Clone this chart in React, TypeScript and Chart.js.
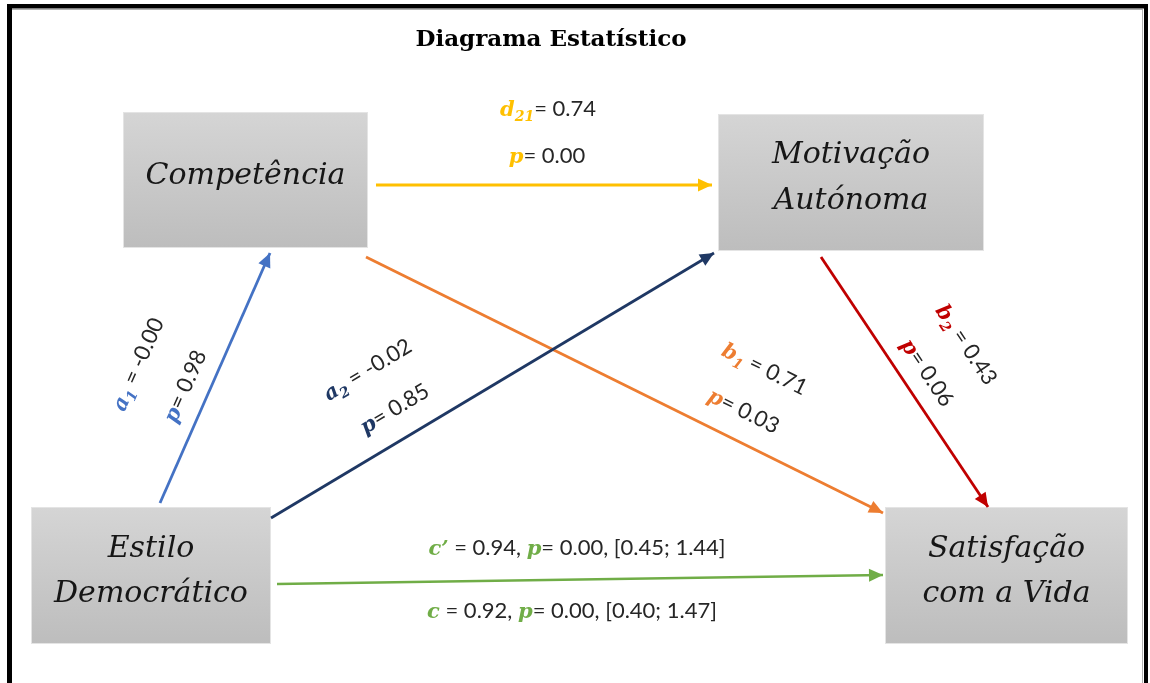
import React, { useEffect, useRef } from 'react';
import { Chart, registerables } from 'chart.js';

Chart.register(...registerables);

// ---------------- DATA ----------------
const chartTitle = 'Diagrama Estatístico';
const nodeLabels = ['Competência', 'Motivação\nAutónoma', 'Estilo\nDemocrático', 'Satisfação\ncom a Vida'];
const pathSymbols = ['a', 'a', 'd', 'b', 'b', 'c’', 'c'];
const pathSubscripts = ['1', '2', '21', '1', '2', '', ''];
const pathFrom = [2, 2, 0, 0, 1, 2];
const pathTo = [0, 1, 1, 3, 3, 3];
const coefficients = [-0.004, -0.02, 0.74, 0.71, 0.43, 0.94, 0.92];
const pValues = [0.98, 0.85, 0.0, 0.03, 0.06, 0.0, 0.0];
const ciLower = [0.45, 0.4];
const ciUpper = [1.44, 1.47];

// ---------------- STYLE / LAYOUT ----------------
const pathColors = ['#4472C4', '#1F3864', '#FFC000', '#ED7D31', '#C00000', '#70AD47', '#70AD47'];
const textDark = '#262626';
const boxRects = [
  [123, 112, 368, 248],
  [718, 114, 984, 251],
  [31, 507, 271, 644],
  [885, 507, 1128, 644],
];
const boxBaselines = [[184], [163, 209], [557, 602], [557, 602]];
const arrowEnds = [
  [160, 503, 270, 253],
  [271, 518, 714, 253],
  [376, 185, 712, 185],
  [366, 257, 883, 513],
  [821, 257, 988, 507],
  [277, 584, 883, 575],
];
// label layout: [coefficient line cx, cy, p line cx, cy, angle]
const labelLayout = [
  [137, 364, 184, 386, -66],
  [367, 369, 394, 408, -31],
  [548, 108, 547, 155, 0],
  [765, 368, 744, 410, 26.4],
  [967, 344, 928, 372, 56.3],
];
const effectLabelPos = [
  [577, 547],
  [572, 610],
];
const symFont = 'bold italic 21px "DejaVu Serif"';
const subFont = 'bold italic 14px "DejaVu Serif"';
const numFont = '22px Lato';
const boxFont = 'italic 30px "DejaVu Serif"';
const titleFont = 'bold 23px "DejaVu Serif"';

type Seg = { t: string; f: string; c: string; dy?: number };

function drawRich(ctx: CanvasRenderingContext2D, segs: Seg[], cx: number, cy: number, angle: number) {
  let w = 0;
  const widths: number[] = [];
  for (const s of segs) {
    ctx.font = s.f;
    const sw = ctx.measureText(s.t).width;
    widths.push(sw);
    w += sw;
  }
  ctx.save();
  ctx.translate(cx, cy);
  ctx.rotate((angle * Math.PI) / 180);
  ctx.textAlign = 'left';
  ctx.textBaseline = 'alphabetic';
  let x = -w / 2;
  segs.forEach((s, i) => {
    ctx.font = s.f;
    ctx.fillStyle = s.c;
    ctx.fillText(s.t, x, 8 + (s.dy || 0));
    x += widths[i];
  });
  ctx.restore();
}

function fmt(v: number) {
  return v.toFixed(2);
}

const diagramPlugin = {
  id: 'diagram',
  beforeDatasetsDraw(chart: any) {
    const ctx: CanvasRenderingContext2D = chart.ctx;
    const xs = chart.scales.x;
    const ys = chart.scales.y;
    const px = (v: number) => xs.getPixelForValue(v);
    const py = (v: number) => ys.getPixelForValue(v);
    ctx.save();
    // frame
    ctx.fillStyle = '#000';
    ctx.fillRect(px(7), py(4), px(1148) - px(7), 4.5);
    ctx.fillRect(px(7), py(4), 5, py(683) - py(4));
    ctx.fillRect(px(1144), py(4), 4, py(683) - py(4));
    ctx.fillStyle = '#b0b0b0';
    ctx.fillRect(px(12), py(9), px(1143) - px(12), 1);
    ctx.fillRect(px(1142), py(9), 1, py(683) - py(9));
    // boxes
    boxRects.forEach((r, i) => {
      const x0 = px(r[0]), y0 = py(r[1]), x1 = px(r[2]), y1 = py(r[3]);
      const g = ctx.createLinearGradient(0, y0, 0, y1);
      g.addColorStop(0, '#d5d5d5');
      g.addColorStop(1, '#bdbdbd');
      ctx.fillStyle = g;
      ctx.fillRect(x0, y0, x1 - x0, y1 - y0);
      ctx.strokeStyle = '#e4e4e4';
      ctx.lineWidth = 1;
      ctx.strokeRect(x0 + 0.5, y0 + 0.5, x1 - x0 - 1, y1 - y0 - 1);
      const lines = nodeLabels[i].split('\n');
      ctx.font = boxFont;
      ctx.fillStyle = '#161616';
      ctx.textAlign = 'center';
      ctx.textBaseline = 'alphabetic';
      lines.forEach((ln, j) => {
        ctx.fillText(ln, (x0 + x1) / 2, py(boxBaselines[i][j]));
      });
    });
    ctx.restore();
  },
  afterDatasetsDraw(chart: any) {
    const ctx: CanvasRenderingContext2D = chart.ctx;
    const xs = chart.scales.x;
    const ys = chart.scales.y;
    const px = (v: number) => xs.getPixelForValue(v);
    const py = (v: number) => ys.getPixelForValue(v);
    ctx.save();
    // arrowheads
    arrowEnds.forEach((a, i) => {
      const x0 = px(a[0]), y0 = py(a[1]), x1 = px(a[2]), y1 = py(a[3]);
      const ang = Math.atan2(y1 - y0, x1 - x0);
      const len = 14, half = 6.5;
      ctx.fillStyle = pathColors[i];
      ctx.beginPath();
      ctx.moveTo(x1, y1);
      ctx.lineTo(x1 - len * Math.cos(ang) + half * Math.sin(ang), y1 - len * Math.sin(ang) - half * Math.cos(ang));
      ctx.lineTo(x1 - len * Math.cos(ang) - half * Math.sin(ang), y1 - len * Math.sin(ang) + half * Math.cos(ang));
      ctx.closePath();
      ctx.fill();
    });
    // path labels
    labelLayout.forEach((L, i) => {
      const col = pathColors[i];
      const sp = i === 2 ? '' : ' ';
      const line1: Seg[] = [
        { t: pathSymbols[i], f: symFont, c: col },
        { t: pathSubscripts[i], f: subFont, c: col, dy: 5 },
        { t: sp + '= ' + fmt(coefficients[i]), f: numFont, c: textDark },
      ];
      const line2: Seg[] = [
        { t: 'p', f: symFont, c: col },
        { t: '= ' + fmt(pValues[i]), f: numFont, c: textDark },
      ];
      drawRich(ctx, line1, px(L[0]), py(L[1]), L[4]);
      drawRich(ctx, line2, px(L[2]), py(L[3]), L[4]);
    });
    // direct / total effect labels
    effectLabelPos.forEach((pos, k) => {
      const i = 5 + k;
      const col = pathColors[i];
      const segs: Seg[] = [
        { t: pathSymbols[i], f: symFont, c: col },
        { t: ' = ' + fmt(coefficients[i]) + ', ', f: numFont, c: textDark },
        { t: 'p', f: symFont, c: col },
        { t: '= ' + fmt(pValues[i]) + ', [' + fmt(ciLower[k]) + '; ' + fmt(ciUpper[k]) + ']', f: numFont, c: textDark },
      ];
      drawRich(ctx, segs, px(pos[0]), py(pos[1]), 0);
    });
    // title
    ctx.font = titleFont;
    ctx.fillStyle = '#000';
    ctx.textAlign = 'center';
    ctx.textBaseline = 'alphabetic';
    ctx.fillText(chartTitle, px(551), py(46));
    ctx.restore();
  },
};

export default function App() {
  const ref = useRef<HTMLCanvasElement | null>(null);
  useEffect(() => {
    if (!ref.current) return;
    const datasets = arrowEnds.map((a, i) => ({
      label: pathSymbols[i] + pathSubscripts[i],
      data: [
        { x: a[0], y: a[1] },
        { x: a[2], y: a[3] },
      ],
      showLine: true,
      borderColor: pathColors[i],
      backgroundColor: pathColors[i],
      borderWidth: i === 5 ? 2.5 : 2.8,
      pointRadius: 0,
      fill: false,
    }));
    const chart = new Chart(ref.current, {
      type: 'scatter',
      data: { datasets },
      options: {
        animation: false,
        responsive: false,
        events: [],
        layout: { padding: 0 },
        plugins: { legend: { display: false }, tooltip: { enabled: false }, title: { display: false } },
        scales: {
          x: { type: 'linear', min: 0, max: 1150, display: false },
          y: { type: 'linear', min: 0, max: 683, reverse: true, display: false },
        },
      },
      plugins: [diagramPlugin],
    });
    return () => chart.destroy();
  }, []);
  return (
    <div style={{ position: 'absolute', left: 0, top: 0, width: 1150, height: 683, background: '#fff' }}>
      <canvas ref={ref} width={1150} height={683} style={{ width: 1150, height: 683 }} />
    </div>
  );
}
